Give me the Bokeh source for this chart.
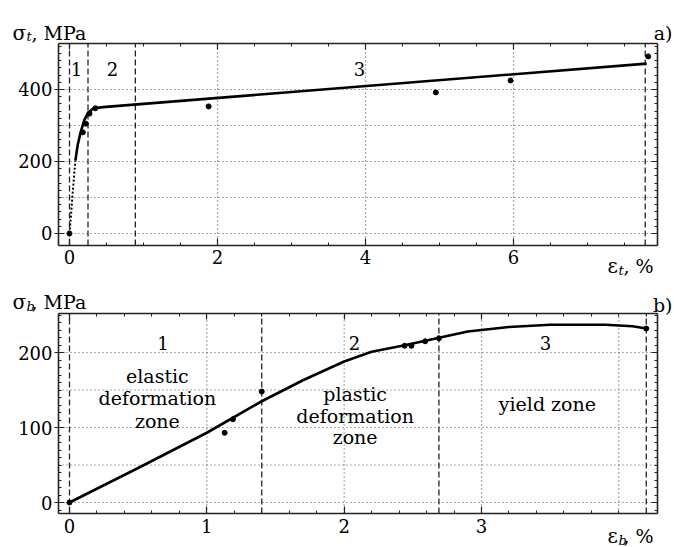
from bokeh.plotting import figure
from bokeh.models import Range1d, LinearAxis, FixedTicker, Label
from bokeh.layouts import column
from bokeh.embed import file_html
from bokeh.resources import INLINE

FONT = "DejaVu Serif"
INK = "#222222"

# ---------------- panel a) data ----------------
a_elastic_eps = [0.0, 0.02, 0.04, 0.06, 0.08]
a_elastic_sig = [0, 50, 105, 155, 203]
a_curve_eps = [0.08, 0.11, 0.15, 0.20, 0.25, 0.32, 0.45, 7.80]
a_curve_sig = [203, 245, 281, 315, 335, 347, 351, 472]
a_pts_eps = [0.0, 0.18, 0.22, 0.27, 0.35, 1.88, 4.95, 5.96, 7.82]
a_pts_sig = [0, 281, 305, 333, 348, 353, 392, 425, 492]
a_zone_bounds = [0.0, 0.25, 0.89, 7.78]
a_zone_names = ["1", "2", "3"]
a_zone_name_x = [0.095, 0.58, 3.92]
a_xticks = [0, 2, 4, 6]
a_yticks = [0, 200, 400]
a_xgrid = [2, 4, 6]
a_ygrid = [0, 100, 200, 300, 400]

# ---------------- panel b) data ----------------
b_curve_eps = [0.0, 0.5, 1.0, 1.4, 1.7, 2.0, 2.2, 2.45, 2.7, 2.9, 3.2, 3.5, 3.9, 4.1, 4.2]
b_curve_sig = [0, 46, 93, 135, 163, 188, 201, 210, 220, 228, 234, 237, 237, 235, 232]
b_pts_eps = [0.0, 1.13, 1.19, 1.40, 2.44, 2.49, 2.59, 2.69, 4.2]
b_pts_sig = [0, 93, 111, 148, 209, 209, 215, 219, 232]
b_zone_bounds = [0.0, 1.40, 2.69, 4.20]
b_zone_names = ["1", "2", "3"]
b_zone_name_x = [0.68, 2.075, 3.466]
b_zone_text = [["elastic", "deformation", "zone"],
               ["plastic", "deformation", "zone"],
               ["yield zone"]]
b_zone_text_x = [0.64, 2.08, 3.48]
b_zone_text_y = [[169, 139, 109], [145, 116, 87], [132]]
b_xticks = [0, 1, 2, 3]
b_yticks = [0, 100, 200]
b_xgrid = [1, 2, 3, 4]
b_ygrid = [0, 50, 100, 150, 200]


def style_axis(ax, ticks, minor, labels, tin, tout, standoff=2):
    ax.ticker = FixedTicker(ticks=ticks, minor_ticks=minor)
    ax.axis_line_color = INK
    ax.axis_line_width = 1.6
    ax.major_tick_line_color = INK
    ax.major_tick_line_width = 1.2
    ax.minor_tick_line_color = INK
    ax.major_tick_in = tin
    ax.major_tick_out = tout
    ax.minor_tick_in = 3
    ax.minor_tick_out = 0
    ax.major_label_text_font = FONT
    ax.major_label_text_color = "black"
    ax.major_label_text_font_size = "18px"
    ax.major_label_standoff = standoff
    if not labels:
        ax.major_label_text_alpha = 0


def make_panel(h, xr, yr, box, xt, xminor, yt, yminor, xg, yg, bounds):
    """Figure whose frame is the whole canvas; the visible plot box is drawn by
    axes at fixed locations so that texts outside the box are not clipped."""
    X0, X1, Y0, Y1 = box
    p = figure(width=674, height=h, x_range=Range1d(*xr), y_range=Range1d(*yr),
               output_backend="svg", toolbar_location=None,
               x_axis_location=None, y_axis_location=None,
               min_border=0, min_border_left=0, min_border_right=0,
               min_border_top=0, min_border_bottom=0)
    p.outline_line_color = None
    p.grid.visible = False
    # grid lines (dotted) and zone boundaries (dashed) inside the box
    p.segment(x0=xg, y0=[Y0] * len(xg), x1=xg, y1=[Y1] * len(xg),
              line_color="#555555", line_dash="1 3", line_width=1.2)
    p.segment(x0=[X0] * len(yg), y0=yg, x1=[X1] * len(yg), y1=yg,
              line_color="#555555", line_dash="1 3", line_width=1.2)
    p.segment(x0=bounds, y0=[Y0] * len(bounds), x1=bounds, y1=[Y1] * len(bounds),
              line_color=INK, line_dash="6 3", line_width=1.3)
    ax_b = LinearAxis(fixed_location=Y0, bounds=(X0, X1))
    style_axis(ax_b, xt, xminor, True, 7, 0, 5)
    p.add_layout(ax_b, "below")
    ax_l = LinearAxis(fixed_location=X0, bounds=(Y0, Y1))
    style_axis(ax_l, yt, yminor, True, 6, 4, 2)
    p.add_layout(ax_l, "left")
    ax_t = LinearAxis(fixed_location=Y1, bounds=(X0, X1))
    style_axis(ax_t, xt, xminor, False, 6, 0)
    p.add_layout(ax_t, "above")
    ax_r = LinearAxis(fixed_location=X1, bounds=(Y0, Y1))
    style_axis(ax_r, yt, yminor, False, 6, 0)
    p.add_layout(ax_r, "right")
    return p


def add_text(p, x, y, text, size="18px", style="normal", align="left",
             baseline="alphabetic"):
    p.add_layout(Label(x=x, y=y, text=text, text_font=FONT, text_font_size=size,
                       text_font_style=style, text_align=align,
                       text_baseline=baseline, text_color="black"))


# ---------------- panel a) ----------------
# page px -> data: x = (px-69)/74, y = (233-py)/0.36 ; box px 58..657, py 43..245
pa = make_panel(278, (-0.9324, 8.1757), (-125.0, 647.22),
                (-0.1486, 7.946, -33.33, 527.78),
                a_xticks, [i * 0.5 for i in range(0, 16)], a_yticks,
                list(range(0, 521, 20)), a_xgrid, a_ygrid, a_zone_bounds)
pa.line(a_elastic_eps, a_elastic_sig, line_color="black", line_width=2, line_dash="2 2")
pa.line(a_curve_eps, a_curve_sig, line_color="black", line_width=2.6)
pa.scatter(a_pts_eps, a_pts_sig, size=5, color="black")
for name, x in zip(a_zone_names, a_zone_name_x):
    add_text(pa, x, 458, name, "18px", align="center", baseline="middle")
add_text(pa, -0.770, 558, "σ", "20px")
add_text(pa, -0.581, 547, "t", "13px", "italic")
add_text(pa, -0.514, 558, ", MPa", "19px")
add_text(pa, 8.149, 558, "a)", "19px", align="right")
add_text(pa, 7.270, -91, "ε", "20px")
add_text(pa, 7.419, -103, "t", "13px", "italic")
add_text(pa, 7.486, -91, ", %", "19px")

# ---------------- panel b) ----------------
# page px -> data: x = (px-69)/137.33, y = (502-py)/0.75 ; box px 58..657, py 313..513
pb = make_panel(269, (-0.5024, 4.4055), (-60.0, 298.67),
                (-0.0801, 4.2817, -14.67, 252.0),
                b_xticks, [i * 0.2 for i in range(0, 22)], b_yticks,
                list(range(-10, 251, 10)), b_xgrid, b_ygrid, b_zone_bounds)
pb.line(b_curve_eps, b_curve_sig, line_color="black", line_width=2.6)
pb.scatter(b_pts_eps, b_pts_sig, size=5, color="black")
for name, x in zip(b_zone_names, b_zone_name_x):
    add_text(pb, x, 213, name, "18px", align="center", baseline="middle")
for lines, x, ys in zip(b_zone_text, b_zone_text_x, b_zone_text_y):
    for t, y in zip(lines, ys):
        add_text(pb, x, y, t, "19px", align="center", baseline="middle")
add_text(pb, -0.415, 267, "σ", "20px")
add_text(pb, -0.313, 261, "b", "13px", "italic")
add_text(pb, -0.277, 267, ", MPa", "19px")
add_text(pb, 4.391, 264, "b)", "19px", align="right")
add_text(pb, 3.918, -44, "ε", "20px")
add_text(pb, 3.998, -50, "b", "13px", "italic")
add_text(pb, 4.034, -44, ", %", "19px")

layout = column(pa, pb)
open("out.html", "w").write(file_html(layout, INLINE))
